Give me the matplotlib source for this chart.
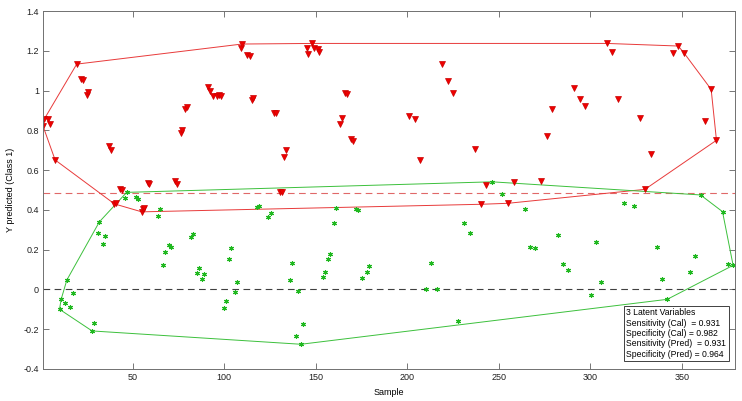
import matplotlib
matplotlib.use("Agg")
import matplotlib.pyplot as plt
import numpy as np
from matplotlib.ticker import FuncFormatter

plt.rcParams['font.family'] = ['Liberation Sans', 'DejaVu Sans']

# class 1 samples (red triangles): sample index, predicted Y
red_x = [1, 1.7, 3.9, 4.9, 7.6, 19.4, 21.8, 22.7, 24.9, 25.8, 37.1, 38, 40, 41,
         43.1, 44, 54.9, 55.4, 56, 58.2, 59, 73.1, 74, 76.2, 77, 78.8, 79.8,
         91.3, 92.2, 94, 95.9, 97, 98, 109, 109.7, 112.2, 114, 115, 115.9,
         127.1, 128, 130.4, 131.3, 132.8, 133.7, 145, 146, 148, 149.1, 151.3,
         151.9, 163, 164.1, 165.9, 167, 169.2, 170.1, 201, 204.1, 207, 219,
         222.1, 225.2, 237, 240.1, 243, 255, 258.1, 272.9, 276.1, 279.1, 291.1,
         294.2, 297.1, 309.1, 312, 315.1, 327.1, 329.8, 333.1, 344.9, 348,
         351.1, 362.9, 366, 368.9]
red_y = [0.821, 0.857, 0.857, 0.832, 0.651, 1.133, 1.056, 1.053, 0.977, 0.992,
         0.721, 0.700, 0.430, 0.435, 0.503, 0.500, 0.390, 0.403, 0.410, 0.536,
         0.530, 0.545, 0.528, 0.785, 0.800, 0.905, 0.918, 1.019, 0.999, 0.974,
         0.974, 0.979, 0.974, 1.212, 1.234, 1.178, 1.175, 0.952, 0.961, 0.885,
         0.885, 0.491, 0.488, 0.667, 0.702, 1.212, 1.182, 1.237, 1.215, 1.207,
         1.192, 0.830, 0.863, 0.989, 0.982, 0.755, 0.745, 0.872, 0.855, 0.649,
         1.132, 1.046, 0.989, 0.707, 0.428, 0.525, 0.433, 0.538, 0.545, 0.773,
         0.905, 1.011, 0.956, 0.924, 1.237, 1.195, 0.959, 0.862, 0.503, 0.682,
         1.190, 1.224, 1.190, 0.848, 1.006, 0.750]

# class 2 samples (green asterisks)
green_x = [10, 10.9, 13, 14, 15.8, 17.2, 27.8, 29, 30.9, 31.8, 34, 35, 45.8,
           46.7, 51.8, 52.7, 63.8, 64.9, 66.7, 67.8, 70, 71.1, 81.7, 82.8, 84.9,
           86, 87.8, 88.9, 99.8, 100.9, 102.8, 103.9, 106, 106.9, 118, 119, 124,
           125.3, 135.9, 136.8, 139, 140.1, 141.9, 143, 153.7, 154.8, 156.8,
           157.9, 160, 161.1, 171.9, 173, 175, 177.9, 179, 210.1, 212.9, 216.1,
           227.9, 231, 234, 246.3, 252, 264.1, 267, 270, 282.2, 284.9, 288,
           300.2, 302.9, 306, 318.2, 324, 336.2, 339.1, 342, 354.2, 357.1,
           360.2, 372.2, 375.3, 378]
green_y = [-0.100, -0.050, -0.070, 0.047, -0.087, -0.020, -0.209, -0.167, 0.285,
           0.340, 0.228, 0.268, 0.458, 0.488, 0.463, 0.453, 0.369, 0.403, 0.123,
           0.188, 0.222, 0.215, 0.262, 0.279, 0.084, 0.106, 0.054, 0.077, -0.092,
           -0.058, 0.153, 0.207, -0.011, 0.039, 0.416, 0.421, 0.366, 0.386,
           0.047, 0.134, -0.234, -0.008, -0.276, -0.172, 0.064, 0.087, 0.155,
           0.178, 0.336, 0.409, 0.404, 0.400, 0.059, 0.087, 0.116, 0.002, 0.133,
           0.000, -0.157, 0.335, 0.282, 0.541, 0.478, 0.403, 0.213, 0.208, 0.272,
           0.129, 0.098, -0.028, 0.238, 0.036, 0.436, 0.419, 0.213, 0.051,
           -0.050, 0.086, 0.169, 0.475, 0.391, 0.129, 0.121]

threshold = 0.483
legend_text = ("3 Latent Variables\n"
               "Sensitivity (Cal)  = 0.931\n"
               "Specificity (Cal) = 0.982\n"
               "Sensitivity (Pred)  = 0.931\n"
               "Specificity (Pred) = 0.964")


def convex_hull(xs, ys):
    pts = sorted(set(zip(xs, ys)))

    def cross(o, a, b):
        return (a[0] - o[0]) * (b[1] - o[1]) - (a[1] - o[1]) * (b[0] - o[0])

    lower, upper = [], []
    for p in pts:
        while len(lower) >= 2 and cross(lower[-2], lower[-1], p) <= 0:
            lower.pop()
        lower.append(p)
    for p in reversed(pts):
        while len(upper) >= 2 and cross(upper[-2], upper[-1], p) <= 0:
            upper.pop()
        upper.append(p)
    hull = lower[:-1] + upper[:-1]
    hull.append(hull[0])
    return np.array(hull)


fig = plt.figure(figsize=(7.42, 4.01), dpi=100)
ax = fig.add_axes([0.058, 0.080, 0.9325, 0.8925])

ax.axhline(threshold, color='#e06868', linestyle=(0, (6, 4)), linewidth=0.8)
ax.axhline(0, color='#404040', linestyle=(0, (6, 4)), linewidth=0.8)

red_hull = convex_hull(red_x, red_y)
green_hull = convex_hull(green_x, green_y)
ax.plot(red_hull[:, 0], red_hull[:, 1], color='#e83a3a', linewidth=0.7)
ax.plot(green_hull[:, 0], green_hull[:, 1], color='#3cc03c', linewidth=0.7)

ax.plot(red_x, red_y, linestyle='none', marker='v', markersize=4.5,
        color='#ee0000', markeredgecolor='#cc0000', markeredgewidth=0.5)
ax.plot(green_x, green_y, linestyle='none', marker=(6, 2, 0), markersize=3.5,
        markeredgecolor='#20b820', markeredgewidth=0.8)

ax.set_xlim(1, 379)
ax.set_ylim(-0.4, 1.4)
ax.set_xticks(np.arange(50, 351, 50))
ax.set_yticks(np.arange(-0.4, 1.41, 0.2))
ax.yaxis.set_major_formatter(FuncFormatter(lambda v, p: '%g' % round(v, 2)))
ax.tick_params(direction='in', top=True, right=True, length=4, width=0.6,
               colors='#606060', labelcolor='#202020', labelsize=6.5, pad=3)
for s in ax.spines.values():
    s.set_color('#707070')
    s.set_linewidth(0.7)

ax.set_xlabel('Sample', fontsize=6.5, labelpad=4)
ax.set_ylabel('Y predicted (Class 1)', fontsize=6.5, labelpad=6)

ax.text(0.843, 0.028, legend_text, transform=ax.transAxes, fontsize=6.2,
        va='bottom', ha='left', linespacing=1.2,
        bbox=dict(boxstyle='square,pad=0.3', facecolor='white',
                  edgecolor='#404040', linewidth=0.7))

fig.savefig('out.png', dpi=100)
